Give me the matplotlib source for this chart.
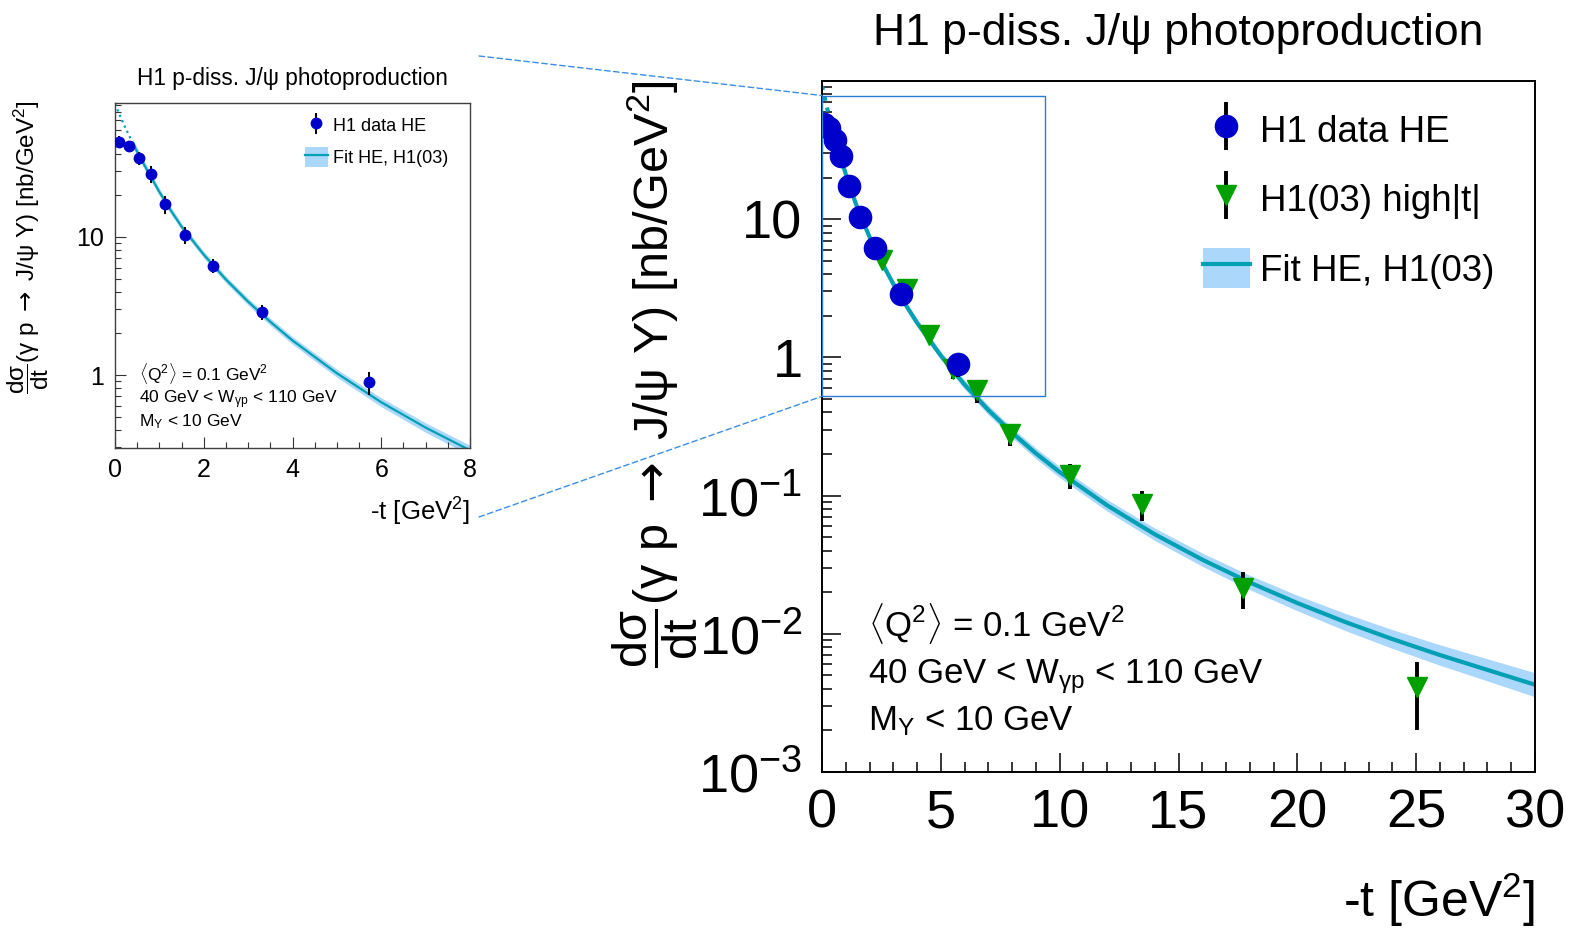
import matplotlib
matplotlib.use('Agg')
import matplotlib.pyplot as plt
import numpy as np
from matplotlib.patches import Rectangle, Patch, ConnectionPatch
from matplotlib.lines import Line2D
from matplotlib.container import ErrorbarContainer
from matplotlib.legend_handler import HandlerErrorbar
from matplotlib.ticker import FixedLocator, FixedFormatter, MultipleLocator, LogLocator, NullFormatter

plt.rcParams['font.family'] = ['Liberation Sans', 'DejaVu Sans']
plt.rcParams['mathtext.fontset'] = 'custom'
plt.rcParams['mathtext.rm'] = 'Liberation Sans'
plt.rcParams['mathtext.it'] = 'Liberation Sans:italic'
plt.rcParams['mathtext.bf'] = 'Liberation Sans:bold'
plt.rcParams['mathtext.sf'] = 'DejaVu Sans'

# H1 data HE (blue circles)
t_he = [0.10, 0.31, 0.54, 0.80, 1.13, 1.58, 2.21, 3.31, 5.72]
xs_he = [49.0, 45.5, 37.5, 28.8, 17.3, 10.35, 6.2, 2.86, 0.89]
err_he = [5.0, 4.5, 4.0, 4.0, 2.6, 1.5, 0.7, 0.37, 0.17]

# H1(03) high |t| (green triangles)
t_hi = [2.51, 3.56, 4.51, 5.51, 6.51, 7.91, 10.43, 13.45, 17.72, 25.04]
xs_hi = [5.1, 3.1, 1.45, 0.83, 0.58, 0.28, 0.141, 0.0867, 0.0216, 0.0041]
err_hi = [0.4, 0.25, 0.12, 0.13, 0.11, 0.05, 0.029, 0.0212, 0.0066, 0.0021]

# Fit HE, H1(03): values, band half width in log10
fit_t = [0, 0.1, 0.2, 0.3, 0.4, 0.5, 0.75, 1, 1.25, 1.5, 2, 2.5, 3, 3.5, 4, 5, 6, 7, 8, 9,
         10, 12, 14, 16, 18, 20, 22, 24, 26, 28, 30]
fit_y = [92, 77.3, 65.4, 55.8, 47.9, 41.4, 29.4, 21.2, 15.7, 11.9, 7.45, 4.92, 3.40, 2.43,
         1.78, 1.03, 0.635, 0.416, 0.285, 0.202, 0.148, 0.0849, 0.0525, 0.0344, 0.0235,
         0.0167, 0.0122, 0.00916, 0.00702, 0.00548, 0.00428]
fit_w = [0.03, 0.03, 0.03, 0.03, 0.03, 0.03, 0.028, 0.026, 0.025, 0.024, 0.024, 0.024, 0.025,
         0.026, 0.027, 0.029, 0.032, 0.034, 0.036, 0.038, 0.040, 0.042, 0.045, 0.048, 0.052,
         0.056, 0.062, 0.068, 0.074, 0.080, 0.087]

# zoomed region shown in the inset
zoom_t = [0, 9.4]
zoom_y = [0.523, 78.5]

col_he = '#0000CC'
col_hi = '#00A000'
col_fit = '#00A0B4'
col_band = '#AAD7FA'
col_zoom = '#2A7AD8'

ylab = r'$\dfrac{\mathrm{d\sigma}}{\mathrm{dt}}$(γ p $\mathsf{\rightarrow}$ J/ψ Y) [nb/GeV$^{2}$]'
q2_txt = r'$\langle$Q$^{2}$$\rangle$ = 0.1 GeV$^{2}$'
w_txt = r'40 GeV < W$_{\mathrm{γp}}$ < 110 GeV'
my_txt = r'M$_{\mathrm{Y}}$ < 10 GeV'

W, H = 1571, 932
fig = plt.figure(figsize=(W / 100, H / 100), dpi=100)
ax = fig.add_axes([822 / W, 1 - 772 / H, (1535 - 822) / W, (772 - 81) / H])
axi = fig.add_axes([115 / W, 1 - 448 / H, 355 / W, 345 / H])

ft = np.array(fit_t)
fy = np.array(fit_y)
fw = np.array(fit_w)
solid = ft >= 0.4
dots = ft <= 0.4


def draw_fit(a, lw):
    a.fill_between(ft[solid], fy[solid] * 10 ** -fw[solid], fy[solid] * 10 ** fw[solid],
                   color=col_band, lw=0, zorder=1)
    a.plot(ft[solid], fy[solid], color=col_fit, lw=lw, zorder=2)
    a.plot(ft[dots], fy[dots], color=col_fit, lw=lw, ls=':', zorder=2)


# ---- main plot ----
draw_fit(ax, 3.0)
eb_hi = ax.errorbar(t_hi, xs_hi, yerr=err_hi, fmt='v', color=col_hi, ms=14, ecolor='black',
                    elinewidth=2.8, capsize=0, zorder=3)
eb_he = ax.errorbar(t_he, xs_he, yerr=err_he, fmt='o', color=col_he, ms=16, ecolor='black',
                    elinewidth=2.8, capsize=0, zorder=4)

ax.set_yscale('log')
ax.set_xlim(0, 30)
ax.set_ylim(1e-3, 100)
ax.xaxis.set_major_locator(MultipleLocator(5))
ax.xaxis.set_minor_locator(MultipleLocator(1))
ax.yaxis.set_major_locator(FixedLocator([1e-3, 1e-2, 1e-1, 1, 10, 100]))
ax.yaxis.set_major_formatter(FixedFormatter(['$10^{-3}$', '$10^{-2}$', '$10^{-1}$', '1', '10', '']))
ax.yaxis.set_minor_locator(LogLocator(base=10, subs=np.arange(2, 10)))
ax.yaxis.set_minor_formatter(NullFormatter())
ax.tick_params(which='both', direction='in', top=False, right=False, width=1.1, labelsize=39)
ax.tick_params(which='major', length=14)
ax.tick_params(which='minor', length=7)
ax.tick_params(axis='x', pad=12)
ax.tick_params(axis='y', pad=14)
for s in ax.spines.values():
    s.set_linewidth(1.4)

ax.text(-0.234, 1.0, ylab, rotation=90, ha='center', va='top', fontsize=35,
        transform=ax.transAxes)
ax.text(1.0, -0.185, r'-t [GeV$^{2}$]', ha='right', va='center', fontsize=36,
        transform=ax.transAxes)

ax.text(0.0645, 0.197, q2_txt, fontsize=25, va='baseline', transform=ax.transAxes)
ax.text(0.0645, 0.129, w_txt, fontsize=25, va='baseline', transform=ax.transAxes)
ax.text(0.0645, 0.061, my_txt, fontsize=25, va='baseline', transform=ax.transAxes)

band_h = Patch(facecolor=col_band, edgecolor='none')
line_h = Line2D([], [], color=col_fit, lw=3)
ax.legend([eb_he, eb_hi, (band_h, line_h)], ['H1 data HE', 'H1(03) high|t|', 'Fit HE, H1(03)'],
          loc='upper left', bbox_to_anchor=(1203 / W, 1 - 110 / H), bbox_transform=fig.transFigure,
          frameon=False, fontsize=26.5, handlelength=1.27, handleheight=1.3, handletextpad=0.27,
          labelspacing=0.78, borderpad=0, borderaxespad=0,
          handler_map={ErrorbarContainer: HandlerErrorbar(xerr_size=0.65)})

ax.add_patch(Rectangle((zoom_t[0], zoom_y[0]), zoom_t[1] - zoom_t[0], zoom_y[1] - zoom_y[0],
                       fill=False, ec=col_zoom, lw=1.0, zorder=6, clip_on=False))
for pt, yy in [((479 / W, 1 - 56 / H), zoom_y[1]), ((479 / W, 1 - 517 / H), zoom_y[0])]:
    con = ConnectionPatch(xyA=pt, coordsA='figure fraction', xyB=(zoom_t[0], yy), coordsB='data',
                          axesB=ax, color='#3A8EE6', lw=1.0, ls=(0, (4, 2.5)))
    fig.add_artist(con)

fig.text(1178 / W, 1 - 33 / H, 'H1 p-diss. J/ψ photoproduction', ha='center', va='center',
         fontsize=32)

# ---- inset ----
draw_fit(axi, 1.6)
eb_he_i = axi.errorbar(t_he, xs_he, yerr=err_he, fmt='o', color=col_he, ms=7.5, ecolor='black',
                       elinewidth=1.4, capsize=0, zorder=4)
axi.set_yscale('log')
axi.set_xlim(0, 8)
axi.set_ylim(0.296, 93.5)
axi.xaxis.set_major_locator(MultipleLocator(2))
axi.xaxis.set_minor_locator(MultipleLocator(0.5))
axi.yaxis.set_major_locator(FixedLocator([1, 10]))
axi.yaxis.set_major_formatter(FixedFormatter(['1', '10']))
axi.yaxis.set_minor_locator(LogLocator(base=10, subs=np.arange(2, 10)))
axi.yaxis.set_minor_formatter(NullFormatter())
axi.tick_params(which='both', direction='in', top=False, right=False, width=0.8, labelsize=18,
                color='#333333')
axi.tick_params(which='major', length=8)
axi.tick_params(which='minor', length=4.3)
axi.tick_params(axis='x', pad=7)
axi.tick_params(axis='y', pad=8)
for s in axi.spines.values():
    s.set_linewidth(1.0)
    s.set_color('#404040')

axi.text(-0.245, 1.01, ylab, rotation=90, ha='center', va='top', fontsize=17.5,
         transform=axi.transAxes)
axi.text(1.0, -0.186, r'-t [GeV$^{2}$]', ha='right', va='center', fontsize=18.5,
         transform=axi.transAxes)
axi.text(0.0676, 0.197, q2_txt, fontsize=12.5, va='baseline', transform=axi.transAxes)
axi.text(0.0676, 0.130, w_txt, fontsize=12.5, va='baseline', transform=axi.transAxes)
axi.text(0.0676, 0.064, my_txt, fontsize=12.5, va='baseline', transform=axi.transAxes)

band_hi = Patch(facecolor=col_band, edgecolor='none')
line_hi = Line2D([], [], color=col_fit, lw=1.6)
axi.legend([eb_he_i, (band_hi, line_hi)], ['H1 data HE', 'Fit HE, H1(03)'],
           loc='upper left', bbox_to_anchor=(305 / W, 1 - 115.5 / H), bbox_transform=fig.transFigure,
           frameon=False, fontsize=13, handlelength=1.27, handleheight=1.3, handletextpad=0.28,
           labelspacing=0.65, borderpad=0, borderaxespad=0,
           handler_map={ErrorbarContainer: HandlerErrorbar(xerr_size=0.6)})

fig.text(292 / W, 1 - 79 / H, 'H1 p-diss. J/ψ photoproduction', ha='center', va='center',
         fontsize=16.3)

fig.savefig('out.png', dpi=100)
